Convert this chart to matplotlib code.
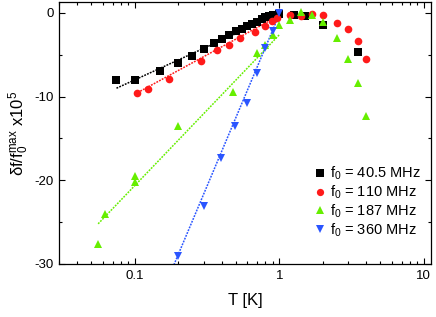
import numpy as np
import matplotlib
matplotlib.use("Agg")
import matplotlib.pyplot as plt
from matplotlib.ticker import LogLocator, MultipleLocator, FixedLocator, NullFormatter

plt.rcParams['font.family'] = ['Liberation Sans', 'DejaVu Sans']
plt.rcParams['mathtext.fontset'] = 'custom'
plt.rcParams['mathtext.rm'] = 'Liberation Sans'
plt.rcParams['mathtext.it'] = 'Liberation Sans'

# 40.5 MHz
T1 = [0.0745, 0.100, 0.148, 0.199, 0.25, 0.30, 0.35, 0.40, 0.45, 0.50, 0.55, 0.60, 0.65,
      0.70, 0.755, 0.80, 0.85, 0.90, 0.95, 1.0, 1.26, 1.51, 2.0, 3.5]
V1 = [-8.0, -8.0, -6.9, -6.0, -5.1, -4.3, -3.6, -3.1, -2.6, -2.2, -1.95, -1.6, -1.3,
      -1.05, -0.75, -0.55, -0.4, -0.27, -0.2, -0.08, -0.2, -0.4, -1.4, -4.7]
# 110 MHz
T2 = [0.104, 0.124, 0.173, 0.287, 0.37, 0.449, 0.53, 0.68, 0.80, 0.89, 0.96, 1.19, 1.4,
      1.69, 2.0, 2.5, 3.0, 3.5, 4.0]
V2 = [-9.6, -9.05, -7.9, -5.8, -4.4, -3.8, -2.95, -2.27, -1.6, -1.0, -0.6, -0.24, -0.32,
      -0.08, -0.24, -1.24, -1.9, -3.4, -5.45]
# 187 MHz
T3 = [0.0556, 0.0618, 0.0995, 0.0995, 0.199, 0.478, 0.70, 0.80, 0.90, 1.0, 1.19, 1.4,
      1.69, 2.0, 2.5, 3.0, 3.5, 4.0]
V3 = [-27.6, -24.0, -19.5, -20.2, -13.5, -9.5, -4.75, -3.85, -2.6, -1.45, -0.9, 0.05,
      -0.3, -1.1, -2.95, -5.5, -8.4, -12.3]
# 360 MHz
T4 = [0.198, 0.30, 0.397, 0.49, 0.60, 0.70, 0.80, 0.90, 1.0]
V4 = [-29.1, -23.1, -17.3, -13.5, -10.75, -7.2, -4.25, -2.2, -0.05]

# fit lines: (T range, value at ends)
fitT1 = [0.0745, 1.0]; fitV1 = [-9.0, -0.1]
fitT2 = [0.100, 1.0]; fitV2 = [-9.7, -0.3]
fitT3 = [0.0556, 1.0]; fitV3 = [-25.2, -2.6]
fitT4 = [0.186, 1.02]; fitV4 = [-30.1, 0.2]

labels = ['f$_0$ = 40.5 MHz', 'f$_0$ = 110 MHz', 'f$_0$ = 187 MHz', 'f$_0$ = 360 MHz']
colors = ['#000000', '#ff1a1a', '#66ee00', '#2a55ff']
markers = ['s', 'o', '^', 'v']

fig = plt.figure(figsize=(4.36, 3.17), dpi=100)
ax = fig.add_axes([59/436, 1 - 264/317, (431-59)/436, (264-2)/317])
ax.set_xscale('log')

series = [(T1, V1), (T2, V2), (T3, V3), (T4, V4)]
fits = [(fitT1, fitV1), (fitT2, fitV2), (fitT3, fitV3), (fitT4, fitV4)]
for (ft, fv), c in zip(fits, colors):
    ax.plot(ft, fv, linestyle=(0, (1.2, 0.8)), color=c, lw=1.1, zorder=2)
for (t, v), c, m, l in zip(series, colors, markers, labels):
    ax.plot(t, v, linestyle='none', marker=m, color=c, markersize=5.5, label=l,
            markeredgewidth=0, zorder=3)

ax.set_xlim(0.0298, 11.2)
ax.set_ylim(-30, 1.3)
ax.yaxis.set_major_locator(FixedLocator([0, -10, -20, -30]))
ax.yaxis.set_minor_locator(MultipleLocator(5))
ax.xaxis.set_minor_locator(LogLocator(base=10, subs=np.arange(2, 10), numticks=10))
ax.xaxis.set_minor_formatter(NullFormatter())
ax.set_xticks([0.1, 1, 10])
ax.set_xticklabels(['0.1', '1', '10'])
ax.set_yticklabels(['0', '-10', '-20', '-30'])

ax.tick_params(which='both', direction='in', top=True, right=True, labelsize=9.5, pad=4)
ax.tick_params(which='major', length=4, width=0.8)
ax.tick_params(which='minor', length=2.5, width=0.8)
for s in ax.spines.values():
    s.set_linewidth(0.9)

ax.set_xlabel('T [K]', fontsize=12, labelpad=8)
ax.set_ylabel(r'$\delta$f/f$_0^{\rm max}$ x10$^5$', fontsize=12, labelpad=2)

ax.legend(loc='lower right', bbox_to_anchor=(1.0, 0.057), frameon=False, fontsize=10.5,
          handletextpad=0.05, labelspacing=0.1, borderaxespad=0.3, handlelength=1.2,
          markerscale=0.95)

fig.savefig('out.png', dpi=100)
